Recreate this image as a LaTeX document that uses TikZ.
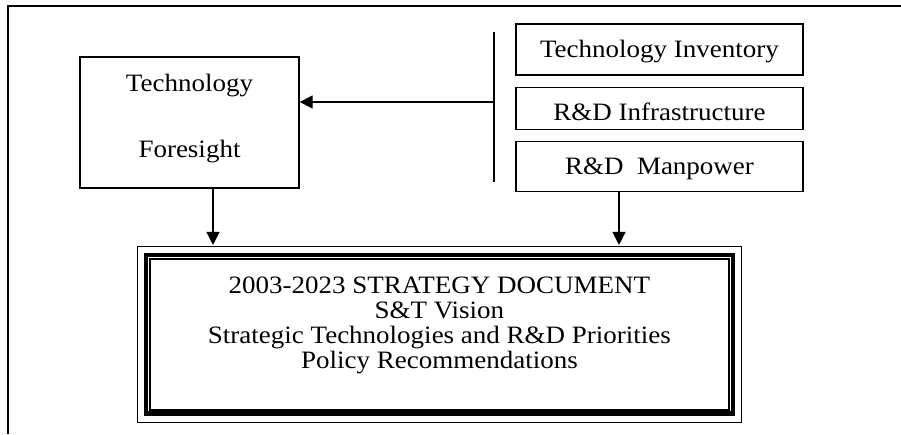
\documentclass[tikz,border=0pt]{standalone}
\usepackage{fontspec}
\setmainfont{Liberation Serif}[FakeStretch=1.08]
\usetikzlibrary{arrows.meta, positioning, calc}

\tikzset{
  srcbox/.style={draw, line width=1.3pt, inner sep=0pt, minimum width=287pt,
    text height=16.5pt, text depth=0pt},
  flowarrow/.style={-{Triangle[length=13pt, width=13pt]}, line width=1.3pt},
  thinframe/.style={line width=1.6pt},
}

\begin{document}
\begin{tikzpicture}[x=1pt, y=-1pt, font=\fontsize{25}{25}\selectfont]
  \useasboundingbox (0,0) rectangle (901,434);

  % Outer frame (only top and left edges are in view)
  \draw[line width=1.5pt] (8,434) -- (8,6) -- (901,6);

  % Technology Foresight
  \node[draw, line width=1.3pt, inner sep=0pt, minimum width=219pt,
    text height=100pt, text depth=31pt, align=center]
    (foresight) at (189.5,122.5) {Technology\\[41pt]Foresight};

  % Inputs on the right
  \node[srcbox, minimum height=51pt] (inventory) at (659.5,49.5) {Technology Inventory};
  \node[srcbox, minimum height=42pt, text height=24.5pt, below=11pt of inventory]
    (infra) {R\&D Infrastructure};
  \node[srcbox, minimum height=50pt, below=11pt of infra]
    (manpower) {R\&D\ \ Manpower};

  % Bar collecting the inputs
  \coordinate (bartop) at (494,32);
  \coordinate (barbot) at (494,182);
  \coordinate (barmid) at (494,102);
  \draw[line width=1.3pt] (bartop) -- (barbot);

  % Arrow bar -> Foresight
  \draw[flowarrow] (barmid) -- (barmid -| foresight.east);

  % Strategy document (triple frame)
  \node[draw, line width=4.6pt, inner sep=0pt, minimum width=587pt,
    text height=113pt, text depth=45.7pt, align=center]
    (strategy) at (439.4,334.4)
    {2003-2023 STRATEGY DOCUMENT\\S\&T Vision\\Strategic Technologies and R\&D Priorities\\Policy Recommendations};
  \draw[thinframe] ([shift={(-6.3,-6.3)}]strategy.north west) rectangle ([shift={(6.3,6.3)}]strategy.south east);
  \draw[thinframe] ([shift={(6.3,6.3)}]strategy.north west) rectangle ([shift={(-6.3,-6.3)}]strategy.south east);

  % Arrows down to the document
  \draw[flowarrow, shorten >=7.8pt] ([xshift=23.5pt]foresight.south)
    -- ([xshift=23.5pt]foresight.south |- strategy.north);
  \draw[flowarrow, shorten >=7.8pt] ([xshift=-40.5pt]manpower.south)
    -- ([xshift=-40.5pt]manpower.south |- strategy.north);

\end{tikzpicture}
\end{document}
